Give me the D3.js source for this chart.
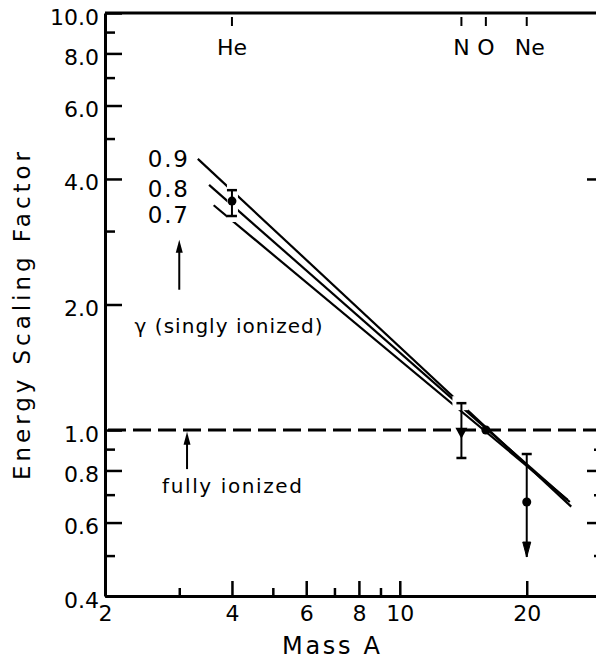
<!DOCTYPE html>
<html><head><meta charset="utf-8">
<script src="https://cdn.jsdelivr.net/npm/d3@7"></script>
<style>
html,body{margin:0;padding:0;background:#fff;}
svg{display:block;font-family:"DejaVu Sans",sans-serif;}
</style></head>
<body><svg id="c" width="596" height="662"></svg>
<script>
// ---- data ----
const xMajorTicks = [2, 4, 6, 8, 10, 20];
const xMajorLabels = ["2", "4", "6", "8", "10", "20"];
const xMinorTicks = [3, 5, 7, 9];
const yMajorTicks = [0.4, 0.6, 0.8, 1, 2, 4, 6, 8, 10];
const yMajorLabels = ["0.4", "0.6", "0.8", "1.0", "2.0", "4.0", "6.0", "8.0", "10.0"];
const yMinorTicks = [0.5, 0.7, 0.9, 3, 5, 7, 9];
const yRightMajorTicks = [0.6, 0.8, 4];
const yRightMinorTicks = [0.5, 0.7, 0.9];

const elementNames = ["He", "N", "O", "Ne"];
const elementMass = [4, 14, 16, 20];

const gammaLabels = ["0.9", "0.8", "0.7"];
const gammaStartMass = [3.32, 3.53, 3.62];
const gammaStartFactor = [4.47, 3.87, 3.46];
const gammaEndMass = [25.5, 25.3, 25.0];
const gammaEndFactor = [0.655, 0.672, 0.68];

const pointMass = [4, 14, 16, 20];
const pointFactor = [3.54, 0.985, 1.0, 0.672];
const errHigh = [3.76, 1.16, null, 0.876];
const errLow = [3.26, 0.857, null, null];
const upperLimitTo = [null, null, null, 0.496];
const markerShape = ["circle", "triangle", "circle", "circle"];

const fullyIonizedFactor = 1.0;

// ---- scales ----
const svg = d3.select("#c");
const x = d3.scaleLog().domain([2, 30]).range([105, 601]);
const y = d3.scaleLog().domain([0.4, 10]).range([596, 13]);

// frame
const frame = svg.append("g").attr("stroke", "#000").attr("stroke-width", 3).attr("fill", "none");
frame.append("line").attr("x1", x(2)).attr("x2", x(30)).attr("y1", y(10)).attr("y2", y(10));
frame.append("line").attr("x1", x(30)).attr("x2", x(30)).attr("y1", y(10)).attr("y2", y(0.4));

function styleAxis(g, textSize) {
  g.select(".domain").attr("stroke-width", 3).attr("stroke", "#000");
  g.selectAll(".tick line").attr("stroke-width", 2.5).attr("stroke", "#000");
  g.selectAll(".tick text").attr("font-size", textSize).attr("fill", "#000")
    .attr("font-family", "DejaVu Sans");
}

// left axis
const gl = svg.append("g").attr("transform", `translate(${x(2)},0)`)
  .call(d3.axisLeft(y).tickValues(yMajorTicks).tickSizeInner(-17).tickSizeOuter(0).tickPadding(6)
    .tickFormat((d, i) => yMajorLabels[i]));
styleAxis(gl, 22);
gl.selectAll(".tick text").attr("dy", "0.5em");
const glm = svg.append("g").attr("transform", `translate(${x(2)},0)`)
  .call(d3.axisLeft(y).tickValues(yMinorTicks).tickSizeInner(-10).tickSizeOuter(0).tickFormat(""));
styleAxis(glm, 0); glm.select(".domain").remove();

// right axis ticks
const gr = svg.append("g").attr("transform", `translate(${x(30)},0)`)
  .call(d3.axisRight(y).tickValues(yRightMajorTicks).tickSizeInner(-14).tickSizeOuter(0).tickFormat(""));
styleAxis(gr, 0); gr.select(".domain").remove();
const grm = svg.append("g").attr("transform", `translate(${x(30)},0)`)
  .call(d3.axisRight(y).tickValues(yRightMinorTicks).tickSizeInner(-7).tickSizeOuter(0).tickFormat(""));
styleAxis(grm, 0); grm.select(".domain").remove();

// bottom axis
const gb = svg.append("g").attr("transform", `translate(0,${y(0.4)})`)
  .call(d3.axisBottom(x).tickValues(xMajorTicks).tickSizeInner(-15).tickSizeOuter(0).tickPadding(9)
    .tickFormat((d, i) => xMajorLabels[i]));
styleAxis(gb, 22);
gb.selectAll(".tick").filter(d => d === 2).select("line").remove();
const gbm = svg.append("g").attr("transform", `translate(0,${y(0.4)})`)
  .call(d3.axisBottom(x).tickValues(xMinorTicks).tickSizeInner(-8).tickSizeOuter(0).tickFormat(""));
styleAxis(gbm, 0); gbm.select(".domain").remove();

// top element ticks + labels
const gt = svg.append("g");
gt.selectAll("line.el").data(elementMass).join("line")
  .attr("x1", d => x(d)).attr("x2", d => x(d)).attr("y1", y(10) + 4).attr("y2", y(10) + 13)
  .attr("stroke", "#000").attr("stroke-width", 2);
gt.selectAll("text.el").data(elementNames).join("text")
  .attr("x", (d, i) => x(elementMass[i]) + (d === "Ne" ? 3 : 0))
  .attr("y", y(10) + 42).attr("text-anchor", "middle").attr("font-size", 22).text(d => d);

// gamma lines
const lineGen = d3.line().x(d => x(d[0])).y(d => y(d[1]));
const gl2 = svg.append("g");
gammaLabels.forEach((g, i) => {
  gl2.append("path")
    .attr("d", lineGen([[gammaStartMass[i], gammaStartFactor[i]], [gammaEndMass[i], gammaEndFactor[i]]]))
    .attr("stroke", "#000").attr("stroke-width", 2.2).attr("fill", "none");
  gl2.append("text").attr("x", x(gammaStartMass[0]) - 10)
    .attr("y", y(gammaStartFactor[i]) + [8, 12, 18][i])
    .attr("text-anchor", "end").attr("font-size", 23).attr("textLength", 40).text(g);
});

// white gaps in lines around He bar and N upper cap
svg.append("rect").attr("x", x(4) - 5).attr("y", y(errHigh[0]) - 6).attr("width", 11)
  .attr("height", y(errLow[0]) - y(errHigh[0]) + 12).attr("fill", "#fff");
svg.append("rect").attr("x", x(14) - 9).attr("y", y(errHigh[1]) - 7).attr("width", 16)
  .attr("height", 14).attr("fill", "#fff");

// fully ionized dashed line
svg.append("line").attr("x1", x(2) + 3).attr("x2", x(30)).attr("y1", y(fullyIonizedFactor)).attr("y2", y(fullyIonizedFactor))
  .attr("stroke", "#000").attr("stroke-width", 3).attr("stroke-dasharray", "18,7");

// error bars and points
const gp = svg.append("g").attr("stroke", "#000").attr("fill", "#000");
pointMass.forEach((m, i) => {
  const cx = x(m);
  if (errHigh[i] != null) {
    const lo = errLow[i] != null ? errLow[i] : (upperLimitTo[i] != null ? upperLimitTo[i] : pointFactor[i]);
    gp.append("line").attr("x1", cx).attr("x2", cx).attr("y1", y(errHigh[i])).attr("y2", y(lo)).attr("stroke-width", 2);
    gp.append("line").attr("x1", cx - 5).attr("x2", cx + 5).attr("y1", y(errHigh[i])).attr("y2", y(errHigh[i])).attr("stroke-width", 2.5);
  }
  if (errLow[i] != null) {
    gp.append("line").attr("x1", cx - 5).attr("x2", cx + 5).attr("y1", y(errLow[i])).attr("y2", y(errLow[i])).attr("stroke-width", 2.5);
  }
  if (upperLimitTo[i] != null) {
    const ty = y(upperLimitTo[i]);
    gp.append("path").attr("d", `M${cx - 4},${ty - 15}L${cx + 4},${ty - 15}L${cx},${ty}Z`).attr("stroke-width", 1);
  }
  const py = y(pointFactor[i]);
  if (markerShape[i] === "circle") {
    gp.append("circle").attr("cx", cx).attr("cy", py).attr("r", 4.5).attr("stroke", "none");
  } else {
    gp.append("path").attr("d", `M${cx - 6},${py - 5}L${cx + 6},${py - 5}L${cx},${py + 6}Z`).attr("stroke", "none");
  }
});

// annotation arrows
function arrow(m, fromF, toF) {
  const ax = x(m), y1 = y(fromF), y2 = y(toF);
  svg.append("line").attr("x1", ax).attr("x2", ax).attr("y1", y1).attr("y2", y2 + 8)
    .attr("stroke", "#000").attr("stroke-width", 2);
  svg.append("path").attr("d", `M${ax - 3.5},${y2 + 13}L${ax + 3.5},${y2 + 13}L${ax},${y2}Z`).attr("fill", "#000");
}
arrow(3.0, 2.17, 2.86);
arrow(3.13, 0.806, 0.99);

svg.append("text").attr("x", x(2.35)).attr("y", y(1.71)).attr("font-size", 20)
  .attr("textLength", 188).attr("lengthAdjust", "spacing").text("γ (singly ionized)");
svg.append("text").attr("x", x(2.73)).attr("y", y(0.706)).attr("font-size", 20)
  .attr("textLength", 140).attr("lengthAdjust", "spacing").text("fully ionized");

// axis titles
svg.append("text").attr("x", 331).attr("y", 654).attr("text-anchor", "middle").attr("font-size", 24)
  .attr("textLength", 98).attr("lengthAdjust", "spacing").text("Mass A");
svg.append("text").attr("transform", "translate(30,316) rotate(-90)").attr("text-anchor", "middle")
  .attr("font-size", 23).attr("textLength", 328).attr("lengthAdjust", "spacing").text("Energy Scaling Factor");
</script></body></html>
